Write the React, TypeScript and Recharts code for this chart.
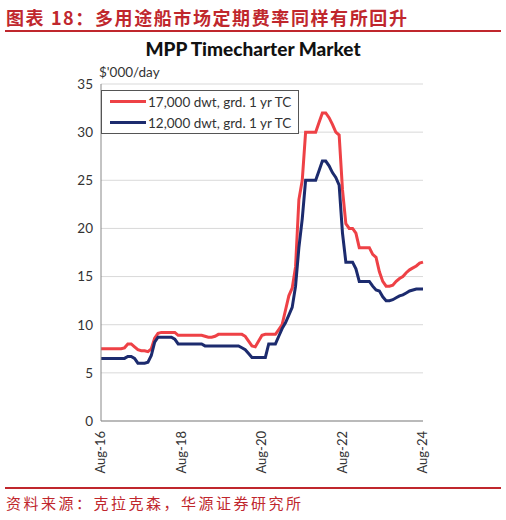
import { LineChart, Line, XAxis, YAxis, CartesianGrid } from "recharts";

// monthly, Aug-16 .. Aug-24
const START_YEAR = 2016;
const START_MONTH = 7; // August, 0-based
const MONTH_NAMES = ["Jan", "Feb", "Mar", "Apr", "May", "Jun", "Jul", "Aug", "Sep", "Oct", "Nov", "Dec"];

const dwt17k = [
  7.5, 7.5, 7.5, 7.5, 7.5, 7.5, 7.5, 7.6, 8.0, 8.0, 7.7, 7.4, 7.3, 7.3, 7.2, 7.5,
  8.6, 9.1, 9.2, 9.2, 9.2, 9.2, 9.2, 8.9, 8.9, 8.9, 8.9, 8.9, 8.9, 8.9, 8.9, 8.8,
  8.7, 8.7, 8.8, 9.0, 9.0, 9.0, 9.0, 9.0, 9.0, 9.0, 9.0, 8.8, 8.3, 7.8, 7.7, 8.3,
  8.9, 9.0, 9.0, 9.0, 9.0, 9.5, 10.0, 11.5, 13.0, 13.8, 16.0, 23.0, 25.0, 30.0, 30.0, 30.0,
  30.0, 31.0, 32.0, 32.0, 31.5, 30.8, 30.0, 29.7, 24.0, 20.5, 20.0, 20.0, 19.5, 18.0, 18.0, 18.0,
  18.0, 17.3, 17.0, 15.5, 14.5, 14.0, 14.0, 14.1, 14.5, 14.8, 15.0, 15.4, 15.7, 15.9, 16.1, 16.4,
  16.5,
];

const dwt12k = [
  6.5, 6.5, 6.5, 6.5, 6.5, 6.5, 6.5, 6.5, 6.7, 6.7, 6.5, 6.0, 6.0, 6.0, 6.1, 6.8,
  8.2, 8.7, 8.7, 8.7, 8.7, 8.7, 8.5, 8.0, 8.0, 8.0, 8.0, 8.0, 8.0, 8.0, 8.0, 7.8,
  7.8, 7.8, 7.8, 7.8, 7.8, 7.8, 7.8, 7.8, 7.8, 7.8, 7.6, 7.4, 7.0, 6.6, 6.6, 6.6,
  6.6, 6.6, 8.0, 8.0, 8.0, 8.8, 9.6, 10.2, 11.0, 11.8, 14.0, 18.0, 21.0, 25.0, 25.0, 25.0,
  25.0, 26.0, 27.0, 27.0, 26.5, 25.8, 25.3, 24.5, 19.5, 16.5, 16.5, 16.5, 15.8, 14.5, 14.5, 14.5,
  14.5, 14.0, 13.6, 13.5, 12.9, 12.5, 12.5, 12.6, 12.8, 13.0, 13.1, 13.3, 13.5, 13.6, 13.7, 13.7,
  13.7,
];

const xTicks = [0, 24, 48, 72, 96];
const yTicks = [0, 5, 10, 15, 20, 25, 30, 35];

const monthLabel = (i: number) => {
  const m = START_MONTH + i;
  const y = START_YEAR + Math.floor(m / 12);
  return `${MONTH_NAMES[m % 12]}-${String(y).slice(2)}`;
};

const data = dwt17k.map((v, i) => ({ i, month: monthLabel(i), d17: v, d12: dwt12k[i] }));

const RED = "#ee4146";
const NAVY = "#1c2b6e";
const FONT = "'Lato', 'Open Sans', sans-serif";

const legendRows = [
  { color: RED, label: "17,000 dwt, grd. 1 yr TC" },
  { color: NAVY, label: "12,000 dwt, grd. 1 yr TC" },
];

function LegendBox() {
  return (
    <div
      style={{
        position: "absolute",
        left: 101,
        top: 90,
        border: "1px solid #555",
        background: "#fff",
        width: 196,
        padding: "0",
        fontFamily: FONT,
        fontSize: 13.5,
        color: "#333",
      }}
    >
      {legendRows.map((r) => (
        <div key={r.label} style={{ display: "flex", alignItems: "center", height: 21 }}>
          <span style={{ display: "inline-block", width: 36, height: 3, background: r.color, marginLeft: 8, marginRight: 2 }} />
          <span>{r.label}</span>
        </div>
      ))}
    </div>
  );
}

export default function App() {
  return (
    <div style={{ position: "absolute", left: 0, top: 0, width: 506, height: 520, background: "#fff" }}>
      <div
        style={{
          position: "absolute",
          left: 6,
          top: 4,
          fontFamily: "'Noto Sans CJK SC', sans-serif",
          fontWeight: 700,
          fontSize: 18,
          color: "#c0272d",
          letterSpacing: 1.6,
          whiteSpace: "nowrap",
        }}
      >
        图表 18：多用途船市场定期费率同样有所回升
      </div>
      <div style={{ position: "absolute", left: 5, top: 30, width: 496, height: 2, background: "#c0272d" }} />

      <div
        style={{
          position: "absolute",
          left: 0,
          width: 506,
          top: 37,
          textAlign: "center",
          fontFamily: FONT,
          fontWeight: 900,
          fontSize: 19,
          color: "#111",
        }}
      >
        MPP Timecharter Market
      </div>
      <div style={{ position: "absolute", left: 99, top: 64, fontFamily: FONT, fontSize: 13.5, color: "#333" }}>
        $'000/day
      </div>

      <div style={{ position: "absolute", left: 0, top: 0 }}>
        <LineChart width={506} height={520} data={data} margin={{ top: 84, right: 83, bottom: 39, left: 61 }}>
          <CartesianGrid horizontal vertical={false} stroke="#d9d9d9" />
          <XAxis
            dataKey="i"
            type="number"
            domain={[0, 96]}
            ticks={xTicks}
            tickFormatter={(v) => monthLabel(v)}
            interval={0}
            height={60}
            angle={-90}
            textAnchor="end"
            dx={-5}
            dy={2}
            tickLine={false}
            axisLine={{ stroke: "#888" }}
            tick={{ fill: "#333", fontSize: 13, fontFamily: FONT }}
          />
          <YAxis
            domain={[0, 35]}
            ticks={yTicks}
            width={40}
            tickLine={false}
            axisLine={{ stroke: "#888" }}
            tick={{ fill: "#333", fontSize: 13.5, fontFamily: FONT }}
          />
          <Line dataKey="d17" name="17,000 dwt, grd. 1 yr TC" stroke={RED} strokeWidth={3} dot={false} isAnimationActive={false} />
          <Line dataKey="d12" name="12,000 dwt, grd. 1 yr TC" stroke={NAVY} strokeWidth={3} dot={false} isAnimationActive={false} />
        </LineChart>
      </div>

      <LegendBox />

      <div style={{ position: "absolute", left: 5, top: 487, width: 496, height: 2, background: "#c0272d" }} />
      <div
        style={{
          position: "absolute",
          left: 6,
          top: 492,
          fontFamily: "'Noto Sans CJK SC', sans-serif",
          fontSize: 15,
          color: "#c0272d",
          letterSpacing: 2.5,
          whiteSpace: "nowrap",
        }}
      >
        资料来源：克拉克森，华源证券研究所
      </div>
    </div>
  );
}
